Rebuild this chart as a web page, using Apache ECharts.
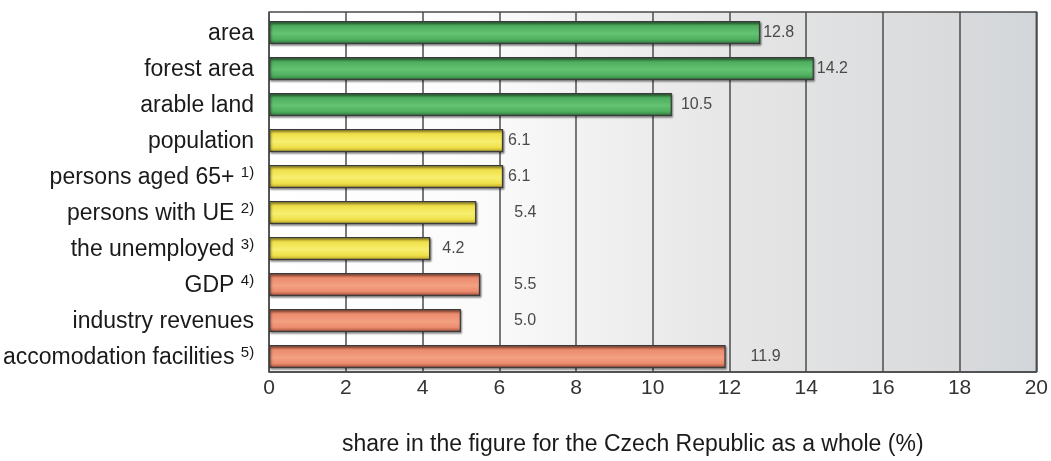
<!DOCTYPE html>
<html><head><meta charset="utf-8">
<script src="https://cdn.jsdelivr.net/npm/echarts@6/dist/echarts.min.js"></script>
<style>html,body{margin:0;padding:0;background:#fff}#c{width:1051px;height:461px}</style>
</head><body><div id="c"></div>
<script>
var categories = ['area','forest area','arable land','population','persons aged 65+','persons with UE','the unemployed','GDP','industry revenues','accomodation facilities'];
var notes = ['','','','','1)','2)','3)','4)','','5)'];
var values = [12.8,14.2,10.5,6.1,6.1,5.4,4.2,5.5,5.0,11.9];
var groups = ['green','green','green','yellow','yellow','yellow','yellow','red','red','red'];
var xTicks = [0,2,4,6,8,10,12,14,16,18,20];
var axisTitle = 'share in the figure for the Czech Republic as a whole (%)';

// styling (not data)
var palette = {
  green: ['#2d6b36','#4fae5f','#62c372','#2e7a3b'],
  yellow: ['#b9a82a','#efe04a','#f7ee6e','#b8a526'],
  red: ['#a8533c','#ec8c6e','#f3a080','#a04c36']
};
var labelGap = [3,3,9,5,5,38,12,34,53,25];

function grad(c){
  return new echarts.graphic.LinearGradient(0,0,0,1,[
    {offset:0,color:c[0]},{offset:0.22,color:c[1]},{offset:0.55,color:c[2]},{offset:0.8,color:c[1]},{offset:1,color:c[3]}]);
}
var chart = echarts.init(document.getElementById('c'));
var font = '"Liberation Sans", Arial, sans-serif';
chart.setOption({
  animation:false,
  grid:{left:267,right:14,top:12,bottom:69,show:true,borderColor:'#4a4a4a',borderWidth:1.5,
    backgroundColor:new echarts.graphic.LinearGradient(0,0,1,0,[
      {offset:0,color:'#ffffff'},{offset:0.28,color:'#fbfbfb'},{offset:0.45,color:'#efefef'},{offset:0.62,color:'#e5e5e5'},{offset:1,color:'#d3d6d9'}])},
  xAxis:{type:'value',min:xTicks[0],max:xTicks[xTicks.length-1],interval:2,
    name:axisTitle,nameLocation:'middle',nameGap:61,
    nameTextStyle:{fontFamily:font,fontSize:23,color:'#1a1a1a',padding:[0,40,0,0]},
    axisLine:{show:true,lineStyle:{color:'#4a4a4a',width:1.5}},axisTick:{show:false},
    axisLabel:{fontFamily:font,fontSize:21,color:'#333',margin:6},
    splitLine:{show:true,lineStyle:{color:'#4d4d4d',width:1.5}}},
  yAxis:{type:'category',inverse:true,data:categories,
    axisLine:{show:false},axisTick:{show:false},
    axisLabel:{margin:15,fontFamily:font,fontSize:23,color:'#1a1a1a',padding:[8,0,0,0],
      formatter:function(v,i){return notes[i]? v+' {s|'+notes[i]+'}' : v;},
      rich:{s:{fontFamily:font,fontSize:15,color:'#1a1a1a',padding:[0,0,10,0]}}}},
  series:[{
    type:'bar',barWidth:5,barGap:'0%',silent:true,
    data:values.map(function(){return null;})
  },{
    type:'bar',barWidth:23,barGap:'0%',
    data:values.map(function(v,i){return {value:v,
      itemStyle:{color:grad(palette[groups[i]])},
      label:{distance:labelGap[i]}};}),
    itemStyle:{borderColor:'#3b3b3b',borderWidth:1.2,shadowColor:'rgba(0,0,0,0.45)',shadowBlur:2,shadowOffsetX:1,shadowOffsetY:1.5},
    label:{show:true,position:'right',formatter:function(p){return p.value.toFixed(1);},
      fontFamily:font,fontSize:16,color:'#4a4a4a'}
  }]
});
</script></body></html>
